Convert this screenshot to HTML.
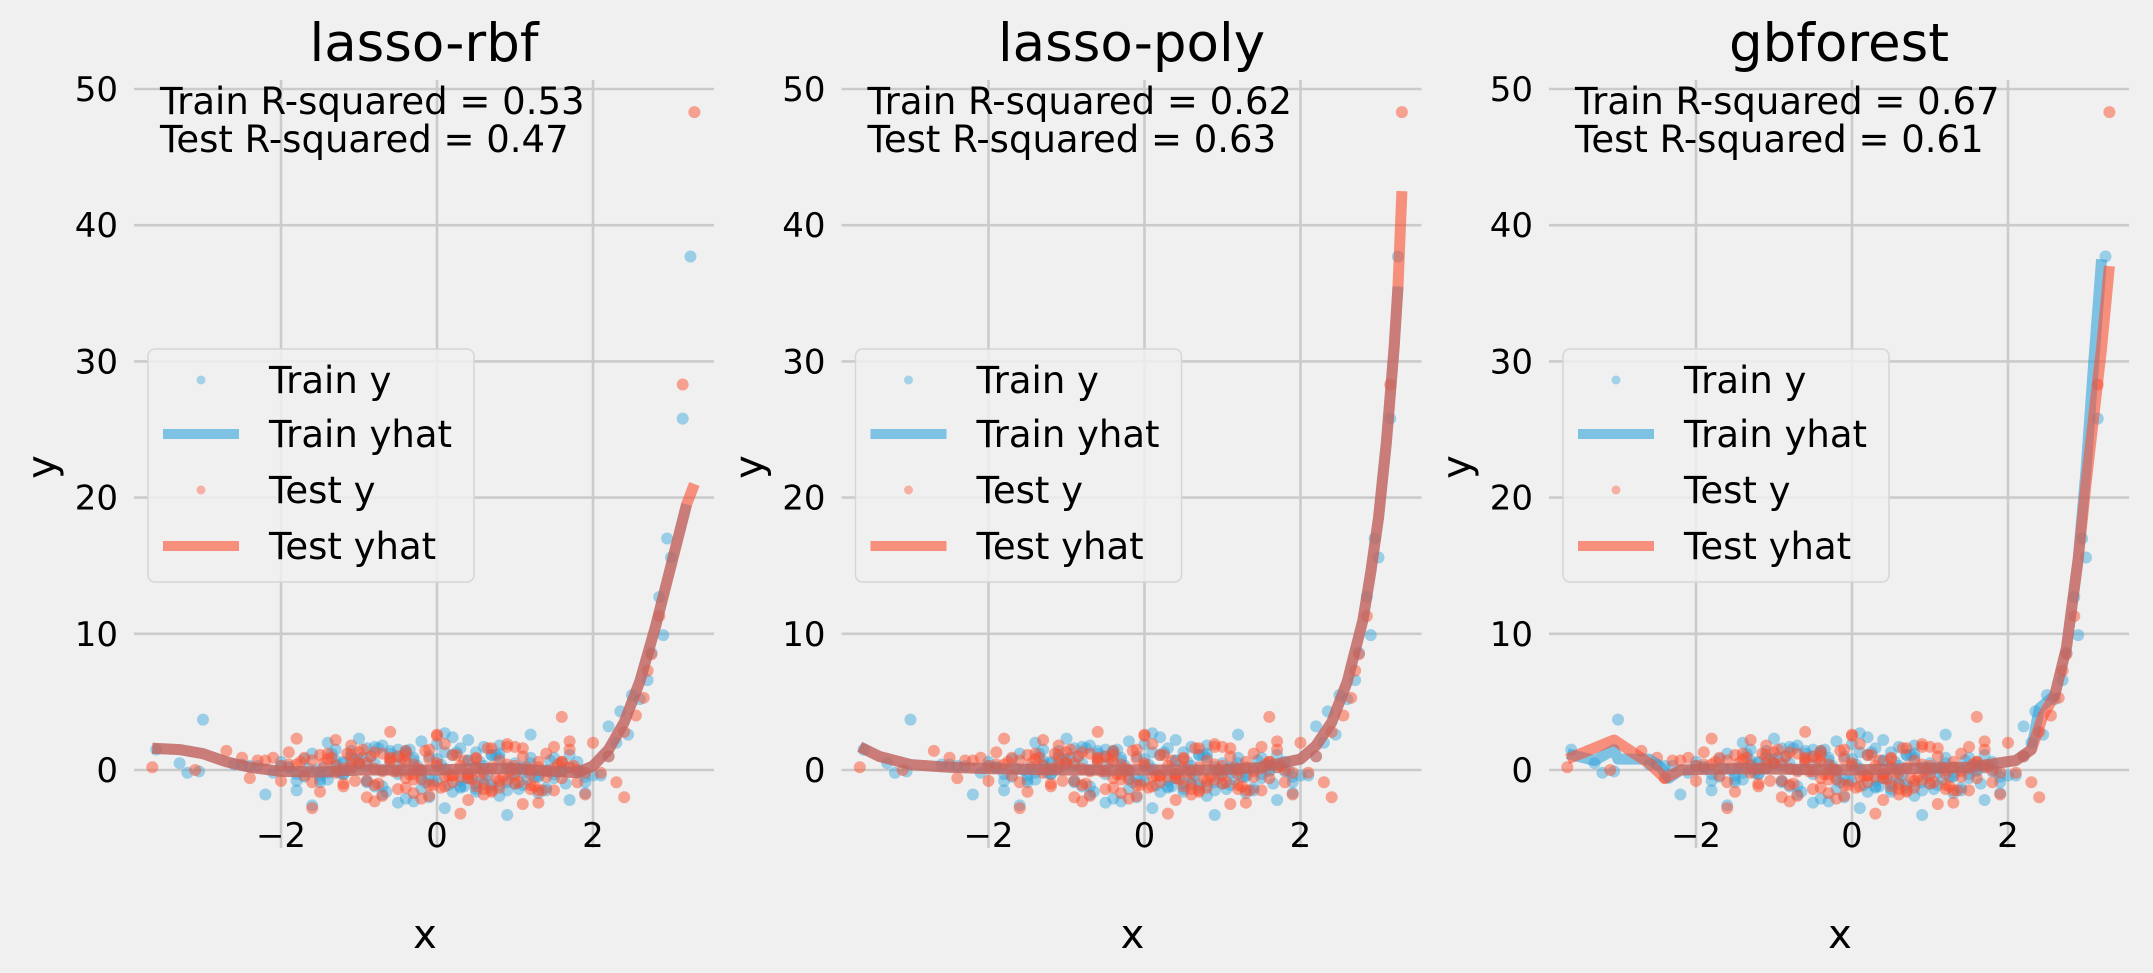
<!DOCTYPE html>
<html><head><meta charset="utf-8"><style>
html,body{margin:0;padding:0;background:#f0f0f0;}
svg{display:block;font-family:"DejaVu Sans","Liberation Sans",sans-serif;}
</style></head><body>
<svg id="fig" width="2153" height="973" viewBox="0 0 2153 973" xmlns="http://www.w3.org/2000/svg">
<rect width="2153" height="973" fill="#f0f0f0"/>
</svg>
<script>
const titles = ["lasso-rbf","lasso-poly","gbforest"];
const trainR2 = ["0.53","0.62","0.67"];
const testR2 = ["0.47","0.63","0.61"];
const xTicks = [-2,0,2];
const xTickLabels = ["\u22122","0","2"];
const yTicks = [0,10,20,30,40,50];
const yTickLabels = ["0","10","20","30","40","50"];

const trainX = [-1.2,0.3,0.8,-0.5,1.5,-1.8,0.1,-0.9,1.1,0.6,-0.2,-1.4,1.9,0.4,-0.7,0.9,-1.1,1.3,-0.3,0.0,
-2.1,0.7,-0.6,1.7,-1.5,0.2,1.0,-1.0,0.5,-0.4,1.4,-1.7,0.8,-0.1,1.2,-2.3,0.3,-0.8,1.6,-1.3,
0.9,-0.5,2.0,-1.9,0.1,0.6,-1.2,1.8,-0.2,0.4,-0.9,1.1,-1.6,0.7,-0.3,1.5,-2.5,0.0,1.3,-0.7,
0.2,-1.4,0.8,-1.0,1.9,-0.6,0.5,-2.0,1.2,-0.1,0.9,-1.1,1.7,-0.4,0.3,-1.8,1.0,-0.8,2.2,-1.5,
0.6,-0.2,1.4,-1.3,0.1,-0.9,1.6,-2.2,0.4,-0.5,1.1,-1.6,0.7,0.0,-1.2,1.8,-0.7,0.5,-2.4,1.3,
-0.3,0.8,-1.0,1.5,-1.9,0.2,-0.6,1.2,-1.4,0.9,-0.1,2.1,-1.7,0.6,-0.8,1.0,-2.6,0.3,-1.1,1.7,
-0.4,0.4,-1.3,1.4,-0.9,2.3,-1.5,0.7,-0.2,1.9,-2.0,0.1,-0.7,1.1,-1.8,0.5,-0.5,1.6,-1.2,0.8,
-0.15,0.55,-0.85,1.25,-1.45,0.35,-0.35,0.95,-1.05,1.65,0.05,-0.65,0.75,-1.25,1.45,-0.05,0.25,-1.65,1.05,-0.45,
0.45,-0.95,1.85,-1.35,0.15,-0.25,1.15,-0.75,0.65,-1.55,
3.25,3.15,2.95,3.0,2.85,2.9,2.75,2.7,2.5,2.35,-3.0,-3.6,-3.3,-3.2,-3.05,2.45,2.6,2.2];
const trainY = [0.5,-0.8,1.2,-0.3,0.9,-1.5,0.1,1.6,-1.1,0.3,-0.6,2.0,-0.9,0.7,-1.8,0.2,1.4,-0.4,-2.3,0.8,
-0.2,-1.3,0.6,1.1,-0.7,2.4,-1.0,0.4,-1.6,1.3,0.0,-0.5,1.8,-2.0,0.9,0.3,-1.2,0.5,-0.1,1.5,
-0.9,1.0,-0.4,0.2,-2.8,1.7,-0.3,0.6,-1.4,2.2,-0.8,0.1,1.2,-1.1,0.7,-0.6,0.4,1.9,-1.7,0.0,
1.1,-0.2,-1.9,0.8,-0.5,1.4,-1.0,0.3,2.6,-0.7,-1.5,0.9,0.2,-2.1,1.6,-0.3,0.5,-1.2,1.0,-0.4,
-0.6,2.1,-1.3,0.4,1.3,-0.9,0.0,-1.8,0.7,1.5,-0.2,-2.6,1.1,-0.8,0.6,-0.1,1.8,-1.4,0.3,-0.5,
0.9,-1.1,2.3,-0.3,0.2,-1.6,1.2,0.5,-0.7,-3.3,1.0,-0.4,0.8,-1.0,1.7,-0.2,0.4,-1.3,0.1,-2.2,
1.4,-0.6,0.7,-1.5,0.3,2.0,-0.9,1.1,-0.1,-1.7,0.6,2.7,-1.2,0.2,-0.8,1.3,-2.4,0.5,-0.3,0.9,
-0.9,0.6,1.0,-0.5,0.2,-1.2,1.5,-0.3,0.8,-1.0,0.4,-1.6,1.1,-0.2,0.7,-0.8,1.3,0.1,-1.4,0.5,
-0.6,0.9,-0.1,1.2,-1.1,0.3,-0.7,1.6,-0.4,0.0,
37.7,25.8,17.0,15.6,12.7,9.9,8.6,6.6,5.5,4.3,3.7,1.5,0.5,-0.2,-0.1,2.6,5.2,3.2];
const testX = [0.2,-1.1,1.3,-0.4,0.7,-1.6,1.0,-0.2,0.5,-2.0,1.6,-0.8,0.1,1.2,-1.3,0.4,-0.6,1.9,-1.0,0.8,
-0.1,1.4,-1.8,0.6,-0.5,1.1,-2.2,0.3,0.9,-1.2,1.7,-0.3,0.0,-1.5,1.3,-0.7,2.1,-0.9,0.5,-1.7,
1.0,-0.4,0.7,-2.4,1.5,-0.1,0.2,-1.0,1.8,-0.6,0.4,-1.4,1.2,-0.2,-2.7,0.9,-0.8,1.6,-1.1,0.1,
0.6,-1.9,1.4,-0.3,0.8,-1.3,2.0,-0.5,0.3,-0.9,1.1,-1.6,0.0,1.7,-0.7,0.5,-2.1,1.3,-0.4,0.9,
-1.2,1.5,-0.1,0.2,-1.8,1.0,-0.6,2.3,-1.0,0.4,-0.3,1.2,-1.5,0.7,-2.3,1.8,-0.8,0.1,1.4,-1.1,
0.6,-0.4,1.9,-1.7,0.3,-0.9,1.1,-0.2,-1.3,0.8,2.2,-0.5,0.0,-2.0,1.6,-0.7,0.5,-1.4,1.0,-0.1,
-0.6,1.3,-1.9,0.4,0.9,-1.2,1.7,-0.3,-2.5,0.7,-0.8,1.5,0.2,-1.1,2.4,-0.4,0.6,-1.6,1.2,0.0,
0.35,-0.75,1.15,-0.15,0.85,-1.35,0.05,1.55,-0.55,0.25,-1.05,0.65,-0.35,1.35,-1.75,0.45,-0.85,0.95,-0.05,1.75,
-1.15,0.15,-0.45,1.05,-0.95,0.55,-1.45,1.25,-0.25,0.75,
3.3,3.15,2.85,2.75,2.7,2.65,2.55,1.6,-3.65,-3.1,2.4];
const testY = [-0.4,1.1,-1.5,0.6,0.2,-0.9,1.7,-2.1,0.8,0.3,-0.6,1.3,-1.2,0.0,2.2,-0.3,0.9,-1.8,0.5,-0.8,
1.5,-0.1,0.4,-1.4,1.0,-2.5,0.7,-0.5,1.9,-1.0,0.2,-0.7,2.5,-1.6,0.6,1.2,-0.2,-2.0,0.9,-0.4,
0.3,-1.3,1.6,-0.6,0.1,-1.9,1.1,0.5,-0.9,2.8,-0.3,0.8,-1.1,0.0,1.4,-0.7,-2.3,0.6,1.8,-0.5,
-1.0,0.4,1.2,-1.7,0.7,-0.2,2.0,-1.4,0.3,-0.8,1.0,-2.8,0.5,1.5,-0.1,-1.2,0.9,0.2,-0.6,1.7,
0.1,-1.5,0.8,-0.4,2.3,-1.0,0.6,-0.9,1.3,-2.2,0.4,-0.3,1.1,-1.6,0.7,0.0,-1.1,1.9,-0.5,0.2,
-1.8,1.4,-0.2,0.9,-3.2,0.5,1.6,-0.7,0.3,-1.3,1.0,-0.1,2.6,-0.8,0.6,-1.9,0.2,1.2,-0.4,-1.1,
0.8,-2.4,1.3,-0.6,0.4,-1.2,2.1,-0.3,0.9,-1.5,0.1,1.7,-0.9,0.5,-2.0,1.1,-0.2,0.7,-1.4,0.3,
0.7,-1.0,0.2,1.4,-0.5,0.9,-1.3,0.4,-0.1,1.1,-0.8,1.6,-0.3,-1.5,0.6,-0.7,1.0,0.0,-1.1,0.3,
1.2,-0.4,0.8,-0.9,1.5,-0.2,0.5,-1.2,0.1,-0.6,
48.3,28.3,11.3,8.5,7.3,5.3,4.0,3.9,0.2,0.0,2.8];

const rbfLineX = [-3.65,-3.3,-3.0,-2.7,-2.4,-2.0,-1.5,-1.0,-0.5,0,0.5,1.0,1.5,1.8,2.0,2.2,2.4,2.6,2.8,3.0,3.2,3.3];
const rbfLineY = [1.6,1.5,1.2,0.6,0.2,-0.1,-0.15,0,0,0,0.1,0.1,-0.1,-0.2,0.3,1.5,3.5,6.5,10.5,15,19.5,21];
const polyLineX = [-3.65,-3.4,-3.0,-2.5,-2.0,-1.0,0,1.0,1.5,2.0,2.2,2.4,2.6,2.8,2.9,3.0,3.1,3.2,3.25,3.3];
const polyLineY = [1.7,1.0,0.4,0.2,0.1,0,0,0,0.2,0.8,1.8,3.5,6.5,11,14.5,18.5,24,31,35.5,42.5];
const gbTrainX = [-3.65,-3.3,-3.05,-3.0,-2.6,-2.45,-2.35,-2.2,-1.5,0,1.5,2.1,2.3,2.4,2.6,2.75,2.9,3.0,3.1,3.2];
const gbTrainY = [1.2,0.7,1.5,0.8,0.8,0.2,-0.6,0,0.1,0,0.2,0.7,1.5,4.5,5.5,9,15.5,22,30,37.5];
const gbTestX = [-3.65,-3.05,-2.6,-2.4,-2.2,-1.5,0,1.5,2.1,2.3,2.45,2.6,2.75,2.9,3.0,3.1,3.2,3.3];
const gbTestY = [0.8,2.2,0.5,-0.6,0,0.1,0,0.2,0.7,1.5,4.0,5.5,9,15.5,21,26,31,37];

const NS = "http://www.w3.org/2000/svg";
const svg = document.getElementById('fig');
const BLUE = "#30a2da", RED = "#fc4f30";
function mk(tag, attrs, parent){const e=document.createElementNS(NS,tag);for(const k in attrs)e.setAttribute(k,attrs[k]);(parent||svg).appendChild(e);return e;}

const X0 = 437, XS = 78, PANEL = 707.5, Y0 = 770, YS = 13.62;
const AXL = 134-437, AXR = 714-437, AXT = 80, AXB = 848;

function drawPanel(i, lines){
  const off = i*PANEL;
  const xs = v => X0 + off + v*XS;
  const ys = v => Y0 - v*YS;
  const g = mk('g',{});
  
  
  yTicks.forEach((t,k)=>{
    const l = mk('line',{x1:X0+off+AXL,x2:X0+off+AXR,y1:ys(t),y2:ys(t),stroke:"#cbcbcb","stroke-width":2.6},g);
    
    
    const tx = mk('text',{x:X0+off+AXL-16,y:ys(t)+12,"text-anchor":"end","font-size":34,fill:"#000"},g);
    tx.textContent = yTickLabels[k];
    
    
  });
  xTicks.forEach((t,k)=>{
    const l = mk('line',{x1:xs(t),x2:xs(t),y1:AXT,y2:AXB,stroke:"#cbcbcb","stroke-width":2.6},g);
    
    
    const tx = mk('text',{x:xs(t),y:847,"text-anchor":"middle","font-size":34,fill:"#000"},g);
    tx.textContent = xTickLabels[k];
    
    
  });
  const ti = mk('text',{x:X0+off+AXL+290,y:61,"text-anchor":"middle","font-size":53,fill:"#000"},g);
  ti.textContent = titles[i];
  
  
  const xl = mk('text',{x:X0+off-12,y:948,"text-anchor":"middle","font-size":40,fill:"#000"},g);
  xl.textContent = "x";
  
  
  const yl = mk('text',{x:0,y:0,"text-anchor":"middle","font-size":40,fill:"#000",transform:`translate(${55+off},467) rotate(-90)`},g);
  yl.textContent = "y";
  
  
  for(let k=0;k<trainX.length;k++){
    const c = mk('circle',{cx:xs(trainX[k]),cy:ys(trainY[k]),r:6,fill:BLUE,"fill-opacity":0.45},g);
    
    
  }
  for(let k=0;k<testX.length;k++){
    const c = mk('circle',{cx:xs(testX[k]),cy:ys(testY[k]),r:6,fill:RED,"fill-opacity":0.5},g);
    
    
  }
  const pts = (a,b)=>a.map((v,k)=>xs(v).toFixed(1)+","+ys(b[k]).toFixed(1)).join(" ");
  const l1 = mk('polyline',{points:pts(lines[0],lines[1]),fill:"none",stroke:BLUE,"stroke-width":11,"stroke-opacity":0.6,"stroke-linejoin":"round"},g);
  
  
  const l2 = mk('polyline',{points:pts(lines[2],lines[3]),fill:"none",stroke:RED,"stroke-width":11,"stroke-opacity":0.6,"stroke-linejoin":"round"},g);
  
  
  const a1 = mk('text',{x:160+off,y:114,"font-size":37,fill:"#000"},g);
  a1.textContent = "Train R-squared = "+trainR2[i];
  
  
  const a2 = mk('text',{x:160+off,y:152,"font-size":37,fill:"#000"},g);
  a2.textContent = "Test R-squared = "+testR2[i];
  
  
  const lg = mk('g',{},g);
  
  
  mk('rect',{x:148+off,y:349,width:326,height:233,rx:7,fill:"#f0f0f0","fill-opacity":0.85,stroke:"#d6d6d6","stroke-width":1.5},lg);
  const rows = [["Train y",BLUE,"pt",380],["Train yhat",BLUE,"ln",434],["Test y",RED,"pt",490],["Test yhat",RED,"ln",546]];
  rows.forEach(r=>{
    const e = mk('g',{},lg);
    
    
    if(r[2]==="pt") mk('circle',{cx:201+off,cy:r[3],r:4.5,fill:r[1],"fill-opacity":0.4},e);
    else mk('line',{x1:163+off,x2:239+off,y1:r[3],y2:r[3],stroke:r[1],"stroke-width":10,"stroke-opacity":0.6},e);
    const t = mk('text',{x:269+off,y:r[3]+13,"font-size":37,fill:"#000"},e);
    t.textContent = r[0];
  });
}
drawPanel(0,[rbfLineX.slice(0,-1),rbfLineY.slice(0,-1),rbfLineX,rbfLineY]);
drawPanel(1,[polyLineX.slice(0,-1),polyLineY.slice(0,-1),polyLineX,polyLineY]);
drawPanel(2,[gbTrainX,gbTrainY,gbTestX,gbTestY]);
</script>
</body></html>
